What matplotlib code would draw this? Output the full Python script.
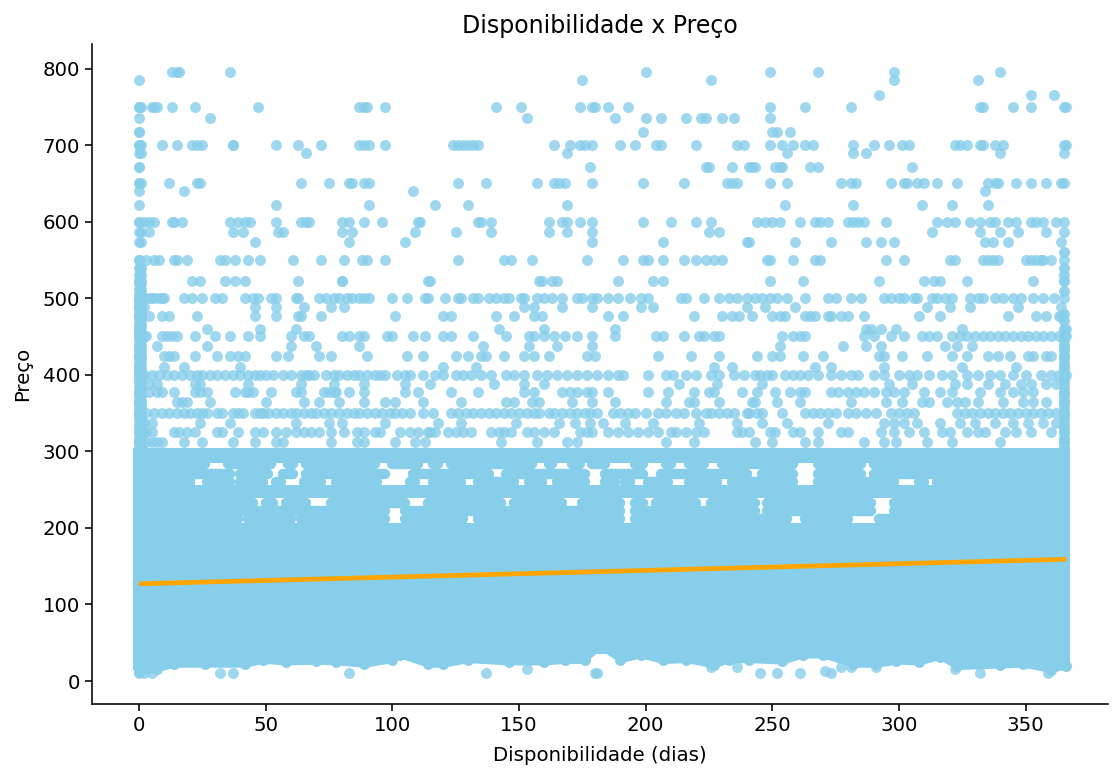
import matplotlib
matplotlib.use('Agg')
import matplotlib.pyplot as plt

# points, one list of days per price level
days_795 = [13, 15, 16, 36, 200, 249, 268, 298, 340]
days_785 = [0, 175, 226, 298, 331]
days_765 = [352, 292, 361]
days_750 = [0, 0, 1, 5, 6, 7, 13, 22, 47, 87, 89, 90, 97, 141, 151, 174, 179, 180, 185, 193,
            249, 263, 281, 332, 333, 345, 352, 365, 366]
days_735 = [0, 28, 153, 188, 200, 206, 216, 222, 224, 230, 235, 249]
days_717 = [0, 0, 199, 250, 252, 257]
days_700 = [0, 0, 1, 9, 15, 21, 23, 25, 37, 37, 54, 63, 72, 87, 89, 91, 97, 124, 126, 128, 130, 132,
            134, 164, 170, 174, 176, 179, 190, 196, 204, 206, 220, 236, 239, 249, 254, 258, 263,
            266, 282, 290, 296, 301, 304, 322, 324, 327, 332, 333, 338, 341, 365, 366]
days_690 = [0, 1, 66, 169, 256, 282, 287, 340, 365]
days_672 = [0, 0, 178, 224, 225, 234, 241, 243, 242, 251, 253, 254, 265, 268, 305]
days_650 = [0, 0, 1, 12, 23, 24, 64, 75, 83, 84, 89, 91, 126, 137, 157, 164, 166, 168, 179, 199,
            215, 232, 234, 236, 249, 256, 277, 281, 283, 297, 302, 303, 307, 310, 315, 323, 335,
            338, 339, 346, 352, 358, 364, 365]
days_640 = [0, 18, 108, 334]
days_622 = [0, 54, 91, 117, 130, 169, 255, 282, 309, 321, 335]
days_600 = [0, 0, 2, 4, 6, 13, 14, 17, 36, 39, 42, 44, 54, 64, 66, 67, 80, 83, 89, 96, 110, 111, 134,
            135, 139, 162, 167, 169, 174, 179, 199, 210, 220, 226, 244, 247, 250, 253, 261, 267,
            269, 272, 280, 282, 284, 286, 295, 315, 319, 322, 328, 332, 336, 338, 343, 346, 352,
            354, 357, 362, 365]
days_587 = [0, 1, 4, 37, 41, 55, 57, 80, 84, 109, 125, 139, 162, 169, 179, 225, 229, 313, 332, 340,
            347, 358, 365]
days_573 = [0, 1, 46, 83, 105, 179, 207, 240, 241, 259, 273, 287, 293, 298, 334, 337, 343, 364]
days_550 = [0, 0, 3, 6, 8, 14, 15, 19, 32, 34, 38, 43, 48, 61, 72, 81, 88, 90, 97, 126, 144, 147,
            155, 177, 191, 199, 201, 207, 215, 220, 224, 227, 230, 248, 249, 258, 267, 269, 295,
            302, 320, 322, 333, 335, 337, 339, 350, 352, 354, 356, 357, 360, 365]
days_523 = [0, 0, 1, 21, 24, 34, 38, 42, 63, 80, 80, 114, 115, 158, 159, 163, 165, 189, 203, 207, 249,
            262, 292, 310, 314, 316, 327, 353, 365, 365]
days_500 = [0, 2, 4, 5, 6, 8, 9, 10, 18, 21, 25, 30, 33, 42, 45, 47, 52, 54, 62, 63, 71, 74, 77, 79,
            82, 84, 87, 89, 91, 100, 106, 113, 114, 121, 126, 127, 132, 134, 138, 141, 144, 146,
            151, 152, 157, 160, 163, 167, 173, 175, 179, 181, 185, 189, 194, 198, 201, 214, 216,
            223, 229, 233, 236, 240, 243, 246, 249, 252, 256, 263, 272, 275, 281, 285, 294, 297,
            300, 302, 306, 307, 313, 315, 318, 321, 328, 331, 333, 338, 341, 345, 348, 353, 357,
            361, 365]
days_488 = [0, 2, 46, 54, 65, 76, 81, 152, 156, 167, 179, 198, 203, 240, 247, 259, 311, 320, 328, 347, 364]
days_477 = [0, 4, 9, 12, 23, 46, 54, 63, 64, 72, 101, 120, 123, 141, 148, 156, 159, 185, 191, 219, 230,
            234, 237, 242, 250, 253, 255, 263, 265, 267, 272, 273, 277, 280, 286, 308, 316, 343, 354,
            358, 363, 364]
days_460 = [0, 27, 48, 62, 142, 160, 188, 287, 289, 293, 299, 325, 366]
days_450 = [0, 2, 3, 9, 11, 13, 15, 22, 30, 36, 43, 48, 60, 65, 67, 80, 83, 87, 89, 98, 100, 108, 113,
            120, 123, 132, 145, 154, 156, 160, 164, 168, 173, 179, 188, 204, 207, 215, 221, 223, 227,
            229, 254, 258, 261, 263, 286, 290, 297, 302, 309, 312, 315, 321, 324, 327, 330, 333, 336,
            339, 342, 345, 348, 351, 354, 357, 360, 363, 366]
days_437 = [0, 7, 27, 60, 70, 87, 136, 154, 165, 179, 253, 278, 287, 293, 318, 323, 329, 365]
days_425 = [0, 10, 12, 14, 22, 31, 36, 39, 42, 54, 59, 71, 76, 90, 106, 112, 125, 130, 135, 137, 144,
            152, 156, 162, 177, 180, 205, 218, 229, 244, 250, 253, 262, 270, 292, 294, 301, 311, 321,
            327, 335, 339, 344, 351, 353, 358, 360, 365]
days_410 = [0, 10, 18, 40, 120, 133, 227, 234, 267, 273, 294, 325, 346, 365]
days_400 = [0, 2, 5, 8, 11, 14, 17, 20, 23, 25, 28, 31, 34, 37, 40, 43, 46, 48, 50, 53, 57, 60, 64,
            66, 67, 69, 74, 77, 79, 82, 85, 87, 90, 93, 95, 97, 102, 105, 107, 112, 117, 120, 125,
            128, 131, 135, 139, 145, 148, 152, 157, 161, 165, 169, 173, 177, 181, 185, 189, 191,
            201, 208, 211, 216, 220, 226, 229, 235, 239, 243, 245, 248, 250, 255, 258, 261, 264,
            268, 273, 277, 281, 284, 290, 294, 300, 304, 307, 312, 317, 321, 327, 331, 336, 340,
            345, 350, 356, 360, 363, 366]
days_388 = [4, 7, 22, 24, 43, 64, 77, 89, 105, 115, 140, 152, 160, 213, 228, 246, 296, 305, 322, 327, 335,
            342, 348, 352, 358, 362]
days_378 = [0, 4, 7, 9, 14, 22, 24, 27, 38, 42, 43, 45, 52, 62, 64, 73, 75, 77, 78, 83, 89, 105, 110,
            123, 134, 152, 156, 167, 170, 173, 177, 179, 185, 201, 209, 219, 225, 227, 238, 244, 251,
            257, 261, 263, 273, 276, 280, 283, 286, 290, 295, 298, 302, 310, 316, 321, 332, 340, 345,
            349, 353, 365]
days_365 = [0, 15, 17, 19, 28, 50, 65, 71, 79, 89, 97, 101, 112, 127, 145, 148, 155, 158, 171, 179, 188,
            208, 217, 219, 229, 242, 243, 252, 261, 281, 295, 301, 309, 312, 319, 323, 326, 331, 341,
            349, 353, 358, 365]
days_350 = [0, 3, 6, 9, 12, 15, 18, 20, 23, 25, 27, 31, 33, 37, 39, 41, 46, 48, 49, 51, 54, 57, 60,
            62, 65, 68, 70, 73, 76, 79, 82, 85, 87, 90, 93, 96, 99, 101, 104, 107, 112, 116, 123,
            126, 129, 132, 135, 138, 141, 144, 147, 150, 153, 156, 158, 162, 164, 167, 170, 173,
            176, 178, 181, 187, 190, 193, 196, 200, 205, 208, 212, 215, 220, 224, 226, 229, 232,
            235, 240, 241, 244, 246, 254, 263, 266, 269, 272, 275, 280, 283, 287, 291, 297, 300,
            303, 306, 323, 326, 329, 332, 335, 338, 341, 344, 347, 350, 353, 356, 359, 362, 365]
days_337 = [2, 5, 24, 36, 62, 75, 80, 97, 118, 127, 149, 166, 172, 178, 183, 192, 203, 221, 236, 246, 256,
            272, 294, 298, 302, 307, 316, 324, 330, 338, 345, 351, 357, 362]
days_325 = [0, 1, 2, 3, 5, 14, 16, 19, 22, 31, 33, 39, 46, 49, 54, 58, 62, 65, 68, 71, 76, 81, 86, 89, 93,
            95, 103, 107, 110, 114, 115, 117, 122, 125, 128, 131, 139, 142, 144, 147, 153, 156, 160,
            164, 174, 177, 179, 185, 189, 193, 197, 201, 205, 210, 212, 216, 220, 223, 236, 238, 241,
            249, 251, 258, 261, 268, 277, 280, 293, 298, 304, 310, 317, 320, 327, 331, 334, 342, 346,
            352, 360, 365]
days_312 = [0, 3, 5, 7, 9, 18, 25, 37, 46, 54, 57, 76, 86, 89, 101, 109, 113, 143, 157, 169, 173, 208, 219,
            243, 250, 263, 268, 286, 294, 299, 311, 321, 340, 365]

# column of points along the two ends of the axis (price)
left_column = [300, 306, 312, 318, 324, 330, 336, 342, 348, 354, 360, 366, 372, 378, 384, 390, 396, 402, 408,
               414, 420, 426, 432, 438, 444, 450, 456, 462, 468, 474, 480, 486, 492, 498, 505, 512, 520, 530, 540]
right_column = [300, 306, 312, 318, 324, 330, 336, 342, 348, 354, 360, 366, 372, 378, 384, 390, 396, 402, 408,
                414, 420, 426, 432, 438, 444, 450, 460, 470, 480, 510, 530, 540, 560]

# lowest isolated points
low_days = [0, 2, 5, 32, 37, 83, 137, 153, 180, 181, 226, 236, 245, 252, 261, 271, 273, 277, 281, 291, 322, 332, 359]
low_prices = [10, 10, 11, 10, 11, 10, 10, 16, 10, 11, 18, 18, 10, 10, 10, 13, 11, 18, 18, 18, 16, 10, 11]

# lower edge of the solid mass of points
floor_days = [0, 7, 14, 26, 42, 49, 58, 70, 78, 89, 100, 103, 114, 120, 130, 146, 160, 168, 176, 182, 190,
              198, 207, 216, 227, 233, 241, 254, 262, 270, 282, 291, 299, 308, 316, 323, 340, 349, 360, 366]
floor_prices = [12, 16, 22, 22, 22, 27, 25, 26, 25, 22, 28, 34, 22, 22, 28, 25, 25, 27, 27, 45, 28,
                34, 27, 28, 21, 28, 28, 26, 34, 34, 22, 22, 26, 25, 32, 19, 21, 22, 15, 20]

# gaps (days) in the mass between 207 and 305, per price row
gaps_283 = [(27, 34), (53, 58), (62, 65), (94, 99), (111, 115), (119, 122), (156, 161), (164, 170), (175, 178), (185, 189),
            (191, 195), (200, 207), (211, 216), (224, 229), (259, 267), (286, 289)]
gaps_270 = [(37, 39), (52, 56), (62, 65), (98, 107), (139, 144), (177, 183), (200, 205), (241, 245), (259, 267), (286, 289)]
gaps_260 = [(19, 26), (37, 39), (50, 53), (57, 60), (62, 64), (73, 77), (95, 106), (110, 115), (128, 133), (149, 153),
            (160, 164), (177, 183), (189, 191), (195, 200), (210, 216), (229, 233), (259, 267), (299, 307), (311, 314)]
gaps_232 = [(46, 49), (54, 57), (67, 75), (106, 113), (144, 147), (168, 174), (191, 195), (200, 203), (221, 225), (244, 247), (290, 297)]
gaps_222 = [(98, 104), (191, 195), (244, 247), (290, 297)]
gaps_212 = [(40, 42), (61, 63), (98, 104), (129, 133), (191, 195), (257, 262), (281, 291)]

fit_days = [0, 366]
fit_prices = [127, 159]

xticks = [0, 50, 100, 150, 200, 250, 300, 350]
yticks = [0, 100, 200, 300, 400, 500, 600, 700, 800]

levels = [(795, days_795), (785, days_785), (765, days_765), (750, days_750), (735, days_735), (717, days_717),
          (700, days_700), (690, days_690), (672, days_672), (650, days_650), (640, days_640), (622, days_622),
          (600, days_600), (587, days_587), (573, days_573), (550, days_550), (523, days_523), (500, days_500),
          (488, days_488), (477, days_477), (460, days_460), (450, days_450), (437, days_437), (425, days_425),
          (410, days_410), (400, days_400), (388, days_388), (378, days_378), (365, days_365), (350, days_350),
          (337, days_337), (325, days_325), (312, days_312)]

sky = '#87CEEB'
dot = 62

fig = plt.figure(figsize=(11.14, 7.69), dpi=100)
ax = fig.add_axes([92 / 1114, 1 - 704 / 769, (1108 - 92) / 1114, (704 - 44) / 769])

# solid part
ax.fill_between(floor_days, [p - 4 for p in floor_prices], 207, color=sky, lw=0)
ax.fill_between([-2.4, 367.5], 35, 207, color=sky, lw=0)
ax.fill_between([-2.4, 5], 14, 40, color=sky, lw=0)
ax.fill_between([362, 367.5], 16, 40, color=sky, lw=0)
ax.fill_between([-2.4, 367.5], 239, 256, color=sky, lw=0)
ax.fill_between([-2.4, 367.5], 285, 305, color=sky, lw=0)
ax.fill_between([-2.4, 22], 200, 305, color=sky, lw=0)
ax.fill_between([362, 367.5], 200, 305, color=sky, lw=0)
ax.scatter(floor_days, floor_prices, s=dot, color=sky, lw=0)

# part with small gaps
for price, gaps in [(283, gaps_283), (270, gaps_270), (260, gaps_260), (232, gaps_232), (222, gaps_222), (212, gaps_212)]:
    start = 0
    for a, b in gaps:
        if a - 1 > start:
            ax.hlines(price, start, a - 1, color=sky, lw=7.5, capstyle='round')
        start = b + 1
    ax.hlines(price, start, 365, color=sky, lw=7.5, capstyle='round')

# separate points
for price, days in levels:
    ax.scatter(days, [price] * len(days), s=dot, color=sky, alpha=0.8, lw=0)
ax.scatter([0] * len(left_column), left_column, s=dot, color=sky, alpha=0.9, lw=0)
ax.scatter([1] * len(left_column), left_column, s=dot, color=sky, alpha=0.9, lw=0)
ax.scatter([365] * len(right_column), right_column, s=dot, color=sky, alpha=0.9, lw=0)
ax.scatter(low_days, low_prices, s=dot, color=sky, alpha=0.8, lw=0)

ax.plot(fit_days, fit_prices, color='orange', lw=3.4, solid_capstyle='butt')

ax.set_xlim(-18.5, 382.5)
ax.set_ylim(-30, 832)
ax.set_xticks(xticks)
ax.set_yticks(yticks)
ax.tick_params(labelsize=14.2, length=5, width=1.15)
for side in ['top', 'right']:
    ax.spines[side].set_visible(False)
for side in ['left', 'bottom']:
    ax.spines[side].set_linewidth(1.15)
ax.set_title('Disponibilidade x Preço', fontsize=17, pad=8)
ax.set_xlabel('Disponibilidade (dias)', fontsize=14.2, labelpad=8)
ax.set_ylabel('Preço', fontsize=14.2, labelpad=8)

fig.savefig('out.png', dpi=100)
